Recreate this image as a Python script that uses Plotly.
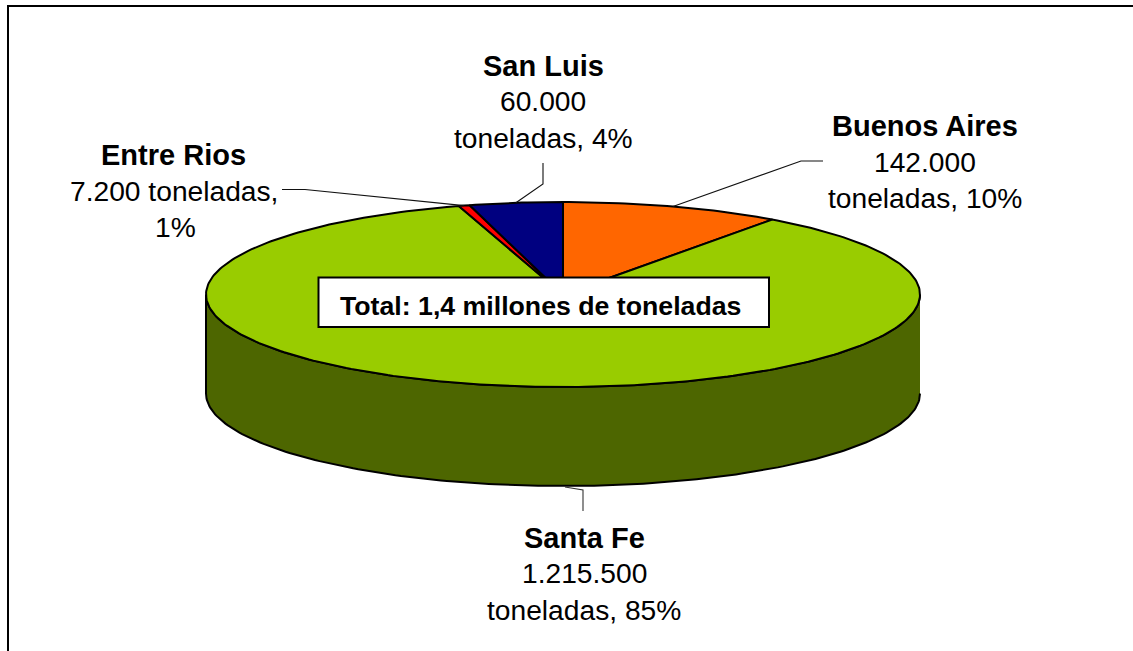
import numpy as np
import plotly.graph_objects as go

# Data (clockwise from 12 o'clock)
categories = ["Buenos Aires", "Santa Fe", "Entre Rios", "San Luis"]
tons = [142000, 1215500, 7200, 60000]
colors = ["#FF6600", "#99CC00", "#FF0000", "#000080"]
side_color = "#4D6600"

# Label text lines with their centres (pixel space of the page)
label_lines = [
    ("San Luis", True, 543, 66), ("60.000", False, 543, 101), ("toneladas, 4%", False, 543, 138),
    ("Buenos Aires", True, 925, 126), ("142.000", False, 925, 162), ("toneladas, 10%", False, 925, 198),
    ("Entre Rios", True, 173.5, 155), ("7.200 toneladas,", False, 173.5, 191), ("1%", False, 175, 227),
    ("Santa Fe", True, 584, 538), ("1.215.500", False, 584, 573), ("toneladas, 85%", False, 584, 610),
]
total_text = "Total: 1,4 millones de toneladas"

# Pie geometry
CX, CY, RX, RY, DEPTH = 563, 294.5, 357, 92.5, 99
W, H = 1133, 651
LW = 2


def ex(t):
    return CX + RX * np.sin(np.radians(t))


def ey(t):
    return CY - RY * np.cos(np.radians(t))


fig = go.Figure()


def poly(x, y, fill, lw=LW):
    fig.add_trace(go.Scatter(x=list(x), y=list(y), mode="lines", fill="toself", fillcolor=fill,
                             line=dict(color="black", width=lw), hoverinfo="skip", showlegend=False))


def path(x, y, lw=1.1, color="#111111"):
    fig.add_trace(go.Scatter(x=list(x), y=list(y), mode="lines", line=dict(color=color, width=lw),
                             hoverinfo="skip", showlegend=False))


# Outer frame
fig.add_shape(type="rect", x0=8, y0=6, x1=W + 10, y1=H + 10, line=dict(color="black", width=2),
              fillcolor="white", layer="below")

# Side wall (front half of the cylinder)
front = np.linspace(90, 270, 181)
poly(np.r_[ex(front), ex(front[::-1])], np.r_[ey(front) + DEPTH, ey(front[::-1])], side_color)

# Top-face slices
total = sum(tons)
sweeps = [v / total * 360 for v in tons]
starts = np.r_[0, np.cumsum(sweeps)[:-1]]
for s, w, c in zip(starts, sweeps, colors):
    t = np.linspace(s, s + w, max(int(w) + 2, 3))
    poly(np.r_[CX, ex(t), CX], np.r_[CY, ey(t), CY], c)

# Leader lines, anchored at each slice's mid angle on the rim
mid = {n: s + w / 2 for n, s, w in zip(categories, starts, sweeps)}
a = mid["Buenos Aires"]
path([ex(a), 801, 823], [ey(a), 161, 161])
a = mid["San Luis"]
path([ex(a), 543, 543], [ey(a), 184, 163])
a = mid["Entre Rios"]
path([ex(a), 305, 282], [ey(a), 189.5, 189.5])
path([565, 583, 583], [ey(180) + DEPTH + 1, 490, 511], color="#333333")

# Total box
fig.add_shape(type="rect", x0=318.5, y0=277.5, x1=769, y1=327, line=dict(color="black", width=2),
              fillcolor="white", layer="above")
fig.add_annotation(x=540.5, y=306, text=f"<b>{total_text}</b>", showarrow=False,
                   font=dict(family="Liberation Sans", size=26.7, color="black"))

for txt, bold, x, y in label_lines:
    fig.add_annotation(x=x, y=y, text=f"<b>{txt}</b>" if bold else txt, showarrow=False,
                       font=dict(family="Liberation Sans", size=29 if bold else 28.2, color="black"))

fig.update_layout(
    width=W, height=H, margin=dict(l=0, r=0, t=0, b=0), paper_bgcolor="white", plot_bgcolor="white",
    xaxis=dict(range=[0, W], visible=False, fixedrange=True),
    yaxis=dict(range=[H, 0], visible=False, fixedrange=True),
    showlegend=False,
)
fig.write_html("out.html", config={"displayModeBar": False},
               post_script="document.body.style.margin='0';document.body.style.overflow='hidden';")
